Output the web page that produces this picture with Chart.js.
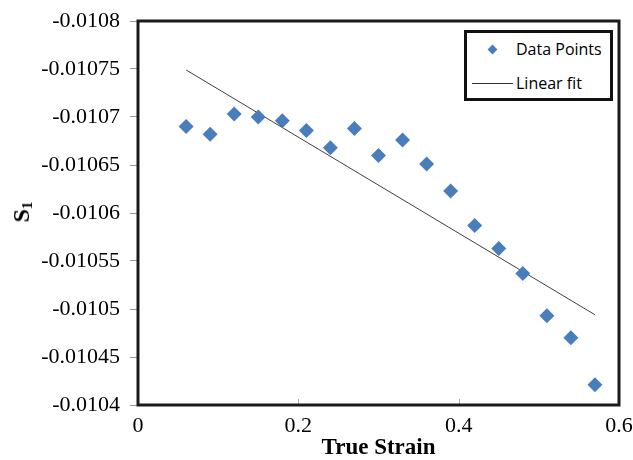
<!DOCTYPE html>
<html>
<head>
<meta charset="utf-8">
<script src="https://cdn.jsdelivr.net/npm/chart.js@4/dist/chart.umd.min.js"></script>
<style>
  html, body { margin: 0; padding: 0; background: #fff; }
  #wrap { position: relative; width: 633px; height: 460px; overflow: hidden; }
  #c { position: absolute; left: 0; top: 0; }
  #ytitle { position: absolute; left: 22px; top: 212px; transform: translate(-50%, -50%) rotate(-90deg);
            font-family: "Liberation Serif", "Times New Roman", serif; font-weight: bold; font-size: 24px;
            white-space: nowrap; color: #000; line-height: 1; }
  #ytitle sub { font-size: 15px; vertical-align: -3px; }
  #legend { position: absolute; left: 464px; top: 30px; width: 149px; height: 71px; box-sizing: border-box;
            border: 3px solid #111; background: #fff; font-family: "Open Sans", "Liberation Sans", sans-serif;
            font-size: 16px; color: #000; }
  .lrow { position: absolute; left: 0; height: 20px; width: 100%; }
  .ltext { position: absolute; left: 49px; top: 50%; transform: translateY(-50%); white-space: nowrap; line-height: 1; }
  .dia { position: absolute; left: 22px; top: 50%; width: 7px; height: 7px; margin-top: -3.5px;
         background: #4a7ebb; transform: rotate(45deg); }
  .lline { position: absolute; left: 5px; width: 41px; top: 50%; height: 1px; background: #333; }
</style>
</head>
<body>
<div id="wrap">
  <canvas id="c" width="633" height="460"></canvas>
  <div id="ytitle">S<sub>1</sub></div>
  <div id="legend">
    <div class="lrow" style="top:6px"><div class="dia"></div><div class="ltext">Data Points</div></div>
    <div class="lrow" style="top:40px"><div class="lline"></div><div class="ltext">Linear fit</div></div>
  </div>
</div>
<script>
// ---- data ----
const strain = [0.06, 0.09, 0.12, 0.15, 0.18, 0.21, 0.24, 0.27, 0.30, 0.33, 0.36, 0.39, 0.42, 0.45, 0.48, 0.51, 0.54, 0.57];
const s1 = [-0.010690, -0.010682, -0.010703, -0.010700, -0.010696, -0.010686, -0.010668, -0.010688, -0.010660,
            -0.010676, -0.010651, -0.010623, -0.010587, -0.010563, -0.010537, -0.010493, -0.010470, -0.010421];
const fitStrain = [0.06, 0.57];
const fitS1 = [-0.010749, -0.010494];
const xTicks = [0, 0.2, 0.4, 0.6];
const yMin = -0.0108, yMax = -0.0104, yStep = 0.00005;
const xLabel = 'True Strain';

const pts = strain.map((x, i) => ({ x: x, y: s1[i] }));
const fit = fitStrain.map((x, i) => ({ x: x, y: fitS1[i] }));

const framePlugin = {
  id: 'frame',
  beforeDatasetsDraw(chart) {
    const { ctx, chartArea: a, scales } = chart;
    ctx.save();
    ctx.strokeStyle = '#aaa';
    ctx.lineWidth = 1;
    xTicks.forEach(v => {
      const px = Math.round(scales.x.getPixelForValue(v)) + 0.5;
      ctx.beginPath();
      ctx.moveTo(px, a.bottom);
      ctx.lineTo(px, a.bottom - 6);
      ctx.stroke();
    });
    ctx.strokeStyle = '#1a1a1a';
    ctx.lineWidth = 3;
    ctx.strokeRect(a.left, a.top, a.right - a.left, a.bottom - a.top);
    ctx.restore();
  }
};

new Chart(document.getElementById('c'), {
  type: 'scatter',
  data: {
    datasets: [
      { label: 'Data Points', data: pts, pointStyle: 'rectRot', pointRadius: 7.5, pointHoverRadius: 7.5,
        backgroundColor: '#4a7ebb', borderColor: '#4a7ebb', borderWidth: 0, showLine: false, order: 1 },
      { label: 'Linear fit', data: fit, showLine: true, pointRadius: 0, borderColor: '#404040',
        borderWidth: 1, fill: false, order: 2 }
    ]
  },
  options: {
    responsive: false,
    animation: false,
    layout: { padding: { left: 0, right: 14, top: 21, bottom: 0 } },
    plugins: { legend: { display: false }, tooltip: { enabled: false } },
    scales: {
      x: {
        type: 'linear', min: 0, max: 0.6,
        afterBuildTicks: s => { s.ticks = xTicks.map(v => ({ value: v })); },
        afterFit: s => { s.height = 55; s.paddingLeft = 0; s.paddingRight = 0; },
        grid: { display: false, drawTicks: false },
        border: { display: false },
        ticks: { padding: 10.5, color: '#000', maxRotation: 0,
                 font: { family: '"Liberation Serif", "Times New Roman", serif', size: 22, lineHeight: 1 },
                 callback: v => String(+v.toFixed(2)) },
        title: { display: true, text: xLabel, color: '#000', padding: { top: 0, bottom: 0 },
                 font: { family: '"Liberation Serif", "Times New Roman", serif', size: 23, weight: 'bold', lineHeight: 1 } }
      },
      y: {
        type: 'linear', min: yMin, max: yMax, reverse: true,
        afterFit: s => { s.width = 138; s.paddingTop = 0; s.paddingBottom = 0; },
        grid: { display: true, drawOnChartArea: false, drawTicks: true, tickLength: 8, color: '#999' },
        border: { display: false },
        ticks: { stepSize: yStep, padding: 10, color: '#000',
                 font: { family: '"Liberation Serif", "Times New Roman", serif', size: 22, lineHeight: 1 },
                 callback: v => String(+v.toFixed(6)) }
      }
    }
  },
  plugins: [framePlugin]
});
</script>
</body>
</html>
